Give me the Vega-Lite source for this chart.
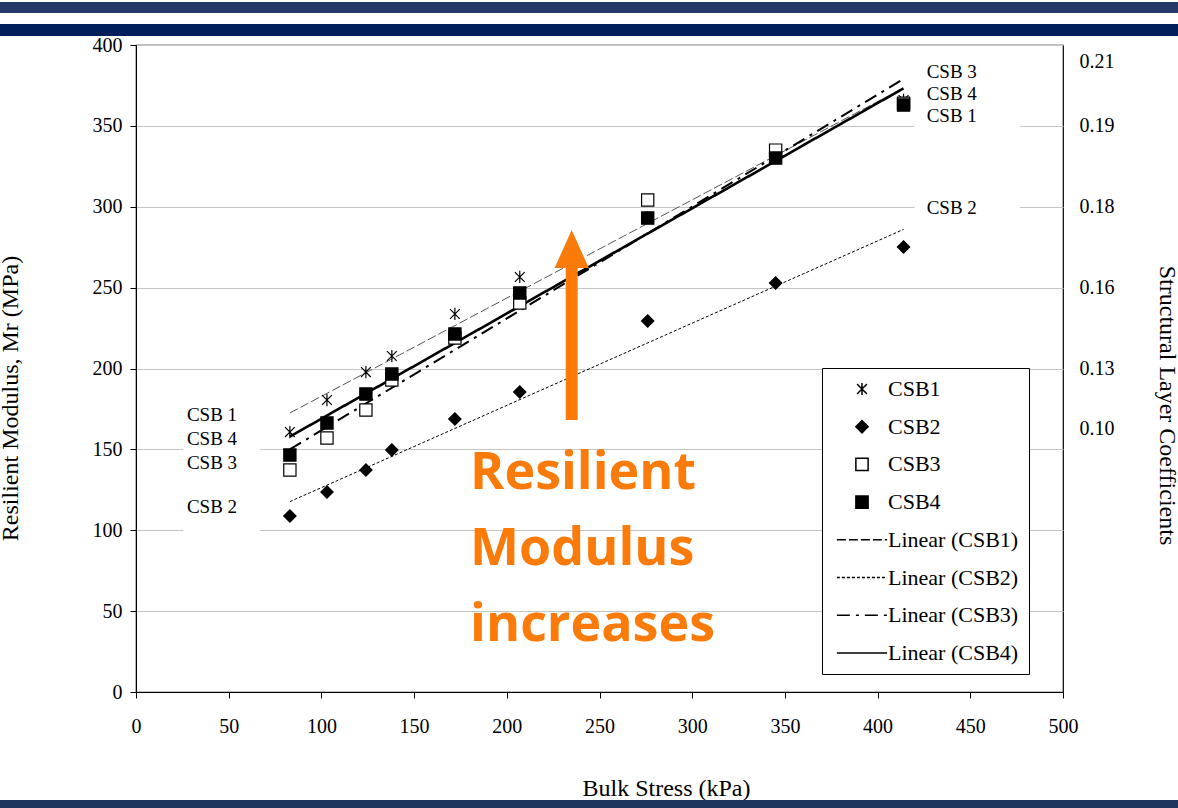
{
  "$schema": "https://vega.github.io/schema/vega-lite/v6.json",
  "width": 927,
  "height": 647,
  "autosize": {"type": "none"},
  "padding": {"left": 136, "top": 45, "right": 115, "bottom": 116},
  "background": "white",
  "config": {
    "view": {"stroke": "black", "strokeWidth": 1.2},
    "font": "Liberation Serif",
    "axis": {
      "labelFont": "Liberation Serif", "titleFont": "Liberation Serif",
      "labelFontSize": 20, "titleFontSize": 24, "labelColor": "black", "titleColor": "black",
      "titleFontWeight": "normal", "domainColor": "black", "tickColor": "black",
      "gridColor": "#c4c4c4", "gridWidth": 1.2, "labelOverlap": false
    },
    "legend": {
      "strokeColor": "black", "fillColor": "white", "padding": 10,
      "labelFont": "Liberation Serif", "labelFontSize": 22, "labelColor": "black",
      "rowPadding": 15.7, "symbolOffset": 19, "labelOffset": 15, "symbolSize": 150,
      "labelLimit": 300, "cornerRadius": 0
    }
  },
  "datasets": {
    "points": [
      {"name": "CSB1", "stress": 83, "mr": 160.7}, {"name": "CSB1", "stress": 103, "mr": 180.5},
      {"name": "CSB1", "stress": 124, "mr": 197.8}, {"name": "CSB1", "stress": 138, "mr": 207.7},
      {"name": "CSB1", "stress": 172, "mr": 233.7}, {"name": "CSB1", "stress": 207, "mr": 256.6},
      {"name": "CSB1", "stress": 276, "mr": 293.5}, {"name": "CSB1", "stress": 345, "mr": 330.5},
      {"name": "CSB1", "stress": 414, "mr": 366},
      {"name": "CSB2", "stress": 83, "mr": 108.8}, {"name": "CSB2", "stress": 103, "mr": 123.6},
      {"name": "CSB2", "stress": 124, "mr": 137.2}, {"name": "CSB2", "stress": 138, "mr": 149.6},
      {"name": "CSB2", "stress": 172, "mr": 168.8}, {"name": "CSB2", "stress": 207, "mr": 185.5},
      {"name": "CSB2", "stress": 276, "mr": 229.4}, {"name": "CSB2", "stress": 345, "mr": 252.9},
      {"name": "CSB2", "stress": 414, "mr": 275.1},
      {"name": "CSB3", "stress": 83, "mr": 137.2}, {"name": "CSB3", "stress": 103, "mr": 157},
      {"name": "CSB3", "stress": 124, "mr": 174.3}, {"name": "CSB3", "stress": 138, "mr": 192.9},
      {"name": "CSB3", "stress": 172, "mr": 218.9}, {"name": "CSB3", "stress": 207, "mr": 240.5},
      {"name": "CSB3", "stress": 276, "mr": 304.2}, {"name": "CSB3", "stress": 345, "mr": 335},
      {"name": "CSB3", "stress": 414, "mr": 364},
      {"name": "CSB4", "stress": 83, "mr": 146.5}, {"name": "CSB4", "stress": 103, "mr": 166.3},
      {"name": "CSB4", "stress": 124, "mr": 184.2}, {"name": "CSB4", "stress": 138, "mr": 196.6},
      {"name": "CSB4", "stress": 172, "mr": 221.3}, {"name": "CSB4", "stress": 207, "mr": 246.7},
      {"name": "CSB4", "stress": 276, "mr": 293}, {"name": "CSB4", "stress": 345, "mr": 330.1},
      {"name": "CSB4", "stress": 414, "mr": 362.9}
    ],
    "trend": [
      {"name": "Linear (CSB1)", "stress": 83, "mr": 172.5}, {"name": "Linear (CSB1)", "stress": 414, "mr": 373.5},
      {"name": "Linear (CSB2)", "stress": 83, "mr": 117.7}, {"name": "Linear (CSB2)", "stress": 414, "mr": 286},
      {"name": "Linear (CSB3)", "stress": 83, "mr": 150}, {"name": "Linear (CSB3)", "stress": 414, "mr": 379},
      {"name": "Linear (CSB4)", "stress": 83, "mr": 157.9}, {"name": "Linear (CSB4)", "stress": 414, "mr": 373.2}
    ],
    "labels": [
      {"label": "CSB 1", "stress": 41, "mr": 171.3}, {"label": "CSB 4", "stress": 41, "mr": 156.4},
      {"label": "CSB 3", "stress": 41, "mr": 141.6}, {"label": "CSB 2", "stress": 41, "mr": 114.4},
      {"label": "CSB 3", "stress": 440, "mr": 383.3}, {"label": "CSB 4", "stress": 440, "mr": 369.7},
      {"label": "CSB 1", "stress": 440, "mr": 356}, {"label": "CSB 2", "stress": 440, "mr": 299.2}
    ],
    "note": [
      {"text": "Resilient\nModulus\nincreases", "stress": 180.2, "mr": 125.5}
    ]
  },
  "resolve": {"axis": {"x": "independent", "y": "independent"}},
  "layer": [
    {
      "data": {"values": [{}]},
      "mark": {"type": "rect", "color": "#233a66"},
      "encoding": {
        "x": {"datum": -80, "type": "quantitative", "axis": null}, "x2": {"datum": 570},
        "y": {"datum": 426.6, "type": "quantitative", "axis": null}, "y2": {"datum": 419.8}
      }
    },
    {
      "data": {"values": [{}]},
      "mark": {"type": "rect", "color": "#001f5b"},
      "encoding": {
        "x": {"datum": -80, "type": "quantitative", "axis": null}, "x2": {"datum": 570},
        "y": {"datum": 413, "type": "quantitative", "axis": null}, "y2": {"datum": 405.6}
      }
    },
    {
      "data": {"values": [{}]},
      "mark": {"type": "rect", "color": "#1f355e"},
      "encoding": {
        "x": {"datum": -80, "type": "quantitative", "axis": null}, "x2": {"datum": 570},
        "y": {"datum": -66.8, "type": "quantitative", "axis": null}, "y2": {"datum": -75}
      }
    },
    {
      "data": {"values": [{}]},
      "mark": {"type": "rect", "color": "white"},
      "encoding": {
        "x": {"datum": 25.4, "type": "quantitative", "axis": null}, "x2": {"datum": 66.9},
        "y": {"datum": 97, "type": "quantitative", "axis": null}, "y2": {"datum": 178.7}
      }
    },
    {
      "data": {"values": [{}]},
      "mark": {"type": "rect", "color": "white"},
      "encoding": {
        "x": {"datum": 420, "type": "quantitative", "axis": null}, "x2": {"datum": 476.8},
        "y": {"datum": 295, "type": "quantitative", "axis": null}, "y2": {"datum": 390.7}
      }
    },
    {
      "data": {"name": "trend"},
      "mark": {"type": "line", "opacity": 1},
      "encoding": {
        "x": {"field": "stress", "type": "quantitative", "axis": null},
        "y": {"field": "mr", "type": "quantitative", "axis": null},
        "strokeDash": {
          "field": "name", "type": "nominal",
          "scale": {
            "domain": ["CSB1", "CSB2", "CSB3", "CSB4", "Linear (CSB1)", "Linear (CSB2)", "Linear (CSB3)", "Linear (CSB4)"],
            "range": [[1, 0], [1, 0], [1, 0], [1, 0], [9, 3], [3, 2], [13, 6, 3, 6], [1, 0]]
          },
          "legend": {
            "title": null, "orient": "none", "legendX": 686, "legendY": 323,
            "encode": {"symbols": {"update": {
              "strokeWidth": {"signal": "datum.value === 'Linear (CSB4)' ? 2.6 : datum.value === 'Linear (CSB3)' ? 2 : 1"},
              "stroke": {"signal": "datum.value === 'Linear (CSB1)' ? '#666666' : 'black'"},
              "opacity": {"value": 1}
            }}}
          }
        },
        "strokeWidth": {
          "condition": [
            {"test": "datum.name === 'Linear (CSB4)'", "value": 2.6},
            {"test": "datum.name === 'Linear (CSB3)'", "value": 2}
          ],
          "value": 1
        },
        "stroke": {
          "condition": {"test": "datum.name === 'Linear (CSB1)'", "value": "#555555"},
          "value": "black"
        },
        "order": {"field": "stress", "type": "quantitative"}
      }
    },
    {
      "data": {"name": "points"},
      "mark": {"type": "point", "filled": true, "stroke": "black", "strokeWidth": 1.2, "size": 150, "opacity": 1},
      "encoding": {
        "x": {
          "field": "stress", "type": "quantitative",
          "scale": {"domain": [0, 500], "nice": false},
          "axis": {
            "values": [0, 50, 100, 150, 200, 250, 300, 350, 400, 450, 500],
            "grid": false, "ticks": true, "tickSize": 6, "labelPadding": 18, "labelFlush": false,
            "title": "Bulk Stress (kPa)", "titleX": 530, "titleY": 103,
            "titleAlign": "center", "titleBaseline": "alphabetic"
          }
        },
        "y": {
          "field": "mr", "type": "quantitative",
          "scale": {"domain": [0, 400], "nice": false},
          "axis": {
            "values": [0, 50, 100, 150, 200, 250, 300, 350, 400],
            "grid": true, "ticks": true, "tickSize": 6, "labelPadding": 8, "labelFlush": false,
            "title": "Resilient Modulus, Mr (MPa)", "titleX": -126, "titleY": 353,
            "titleAngle": -90, "titleAlign": "center", "titleBaseline": "middle"
          }
        },
        "shape": {
          "field": "name", "type": "nominal",
          "scale": {
            "domain": ["CSB1", "CSB2", "CSB3", "CSB4", "Linear (CSB1)", "Linear (CSB2)", "Linear (CSB3)", "Linear (CSB4)"],
            "range": ["M-0.8,-0.8L0.8,0.8M-0.8,0.8L0.8,-0.8M0,-1L0,1", "diamond", "square", "square", "M-4.1,0L4.1,0", "M-4.1,0L4.1,0", "M-4.1,0L4.1,0", "M-4.1,0L4.1,0"]
          },
          "legend": {
            "title": null, "orient": "none", "legendX": 686, "legendY": 323,
            "encode": {"symbols": {"update": {
              "strokeWidth": {"signal": "datum.value === 'Linear (CSB4)' ? 2.6 : datum.value === 'Linear (CSB3)' ? 2 : 1"},
              "stroke": {"signal": "datum.value === 'Linear (CSB1)' ? '#666666' : 'black'"},
              "opacity": {"value": 1}
            }}}
          }
        },
        "fill": {
          "field": "name", "type": "nominal",
          "scale": {
            "domain": ["CSB1", "CSB2", "CSB3", "CSB4", "Linear (CSB1)", "Linear (CSB2)", "Linear (CSB3)", "Linear (CSB4)"],
            "range": ["black", "black", "white", "black", "transparent", "transparent", "transparent", "transparent"]
          },
          "legend": {
            "title": null, "orient": "none", "legendX": 686, "legendY": 323,
            "encode": {"symbols": {"update": {
              "strokeWidth": {"signal": "datum.value === 'Linear (CSB4)' ? 2.6 : datum.value === 'Linear (CSB3)' ? 2 : 1"},
              "stroke": {"signal": "datum.value === 'Linear (CSB1)' ? '#666666' : 'black'"},
              "opacity": {"value": 1}
            }}}
          }
        }
      }
    },
    {
      "data": {"name": "labels"},
      "mark": {"type": "text", "font": "Liberation Serif", "fontSize": 19, "color": "black", "align": "center", "baseline": "middle"},
      "encoding": {
        "x": {"field": "stress", "type": "quantitative", "axis": null},
        "y": {
          "field": "mr", "type": "quantitative",
          "axis": {
            "orient": "right",
            "values": [390, 350, 300, 250, 200, 163],
            "labelExpr": "datum.value == 390 ? '0.21' : datum.value == 350 ? '0.19' : datum.value == 300 ? '0.18' : datum.value == 250 ? '0.16' : datum.value == 200 ? '0.13' : '0.10'",
            "grid": false, "ticks": false, "domain": false, "labelPadding": 16, "labelFlush": false,
            "title": "Structural Layer Coefficients", "titleAngle": 90, "titleX": 103, "titleY": 360,
            "titleAlign": "center", "titleBaseline": "middle"
          }
        },
        "text": {"field": "label", "type": "nominal"}
      }
    },
    {
      "data": {"values": [{}]},
      "mark": {"type": "rule", "color": "#fa7a0a", "strokeWidth": 12},
      "encoding": {
        "x": {"datum": 235, "type": "quantitative", "axis": null},
        "y": {"datum": 168.2, "type": "quantitative", "axis": null},
        "y2": {"datum": 265}
      }
    },
    {
      "data": {"values": [{}]},
      "mark": {"type": "point", "shape": "M0,-1L0.9,1L-0.9,1Z", "size": 1444, "filled": true, "color": "#fa7a0a", "opacity": 1, "strokeWidth": 0},
      "encoding": {
        "x": {"datum": 235, "type": "quantitative", "axis": null},
        "y": {"datum": 273.9, "type": "quantitative", "axis": null}
      }
    },
    {
      "data": {"name": "note"},
      "mark": {"type": "text", "font": "Open Sans", "fontWeight": "bold", "fontSize": 52, "color": "#fa7a0a", "align": "left", "baseline": "alphabetic", "lineBreak": "\n", "lineHeight": 76},
      "encoding": {
        "x": {"field": "stress", "type": "quantitative", "axis": null},
        "y": {"field": "mr", "type": "quantitative", "axis": null},
        "text": {"field": "text", "type": "nominal"}
      }
    }
  ]
}
